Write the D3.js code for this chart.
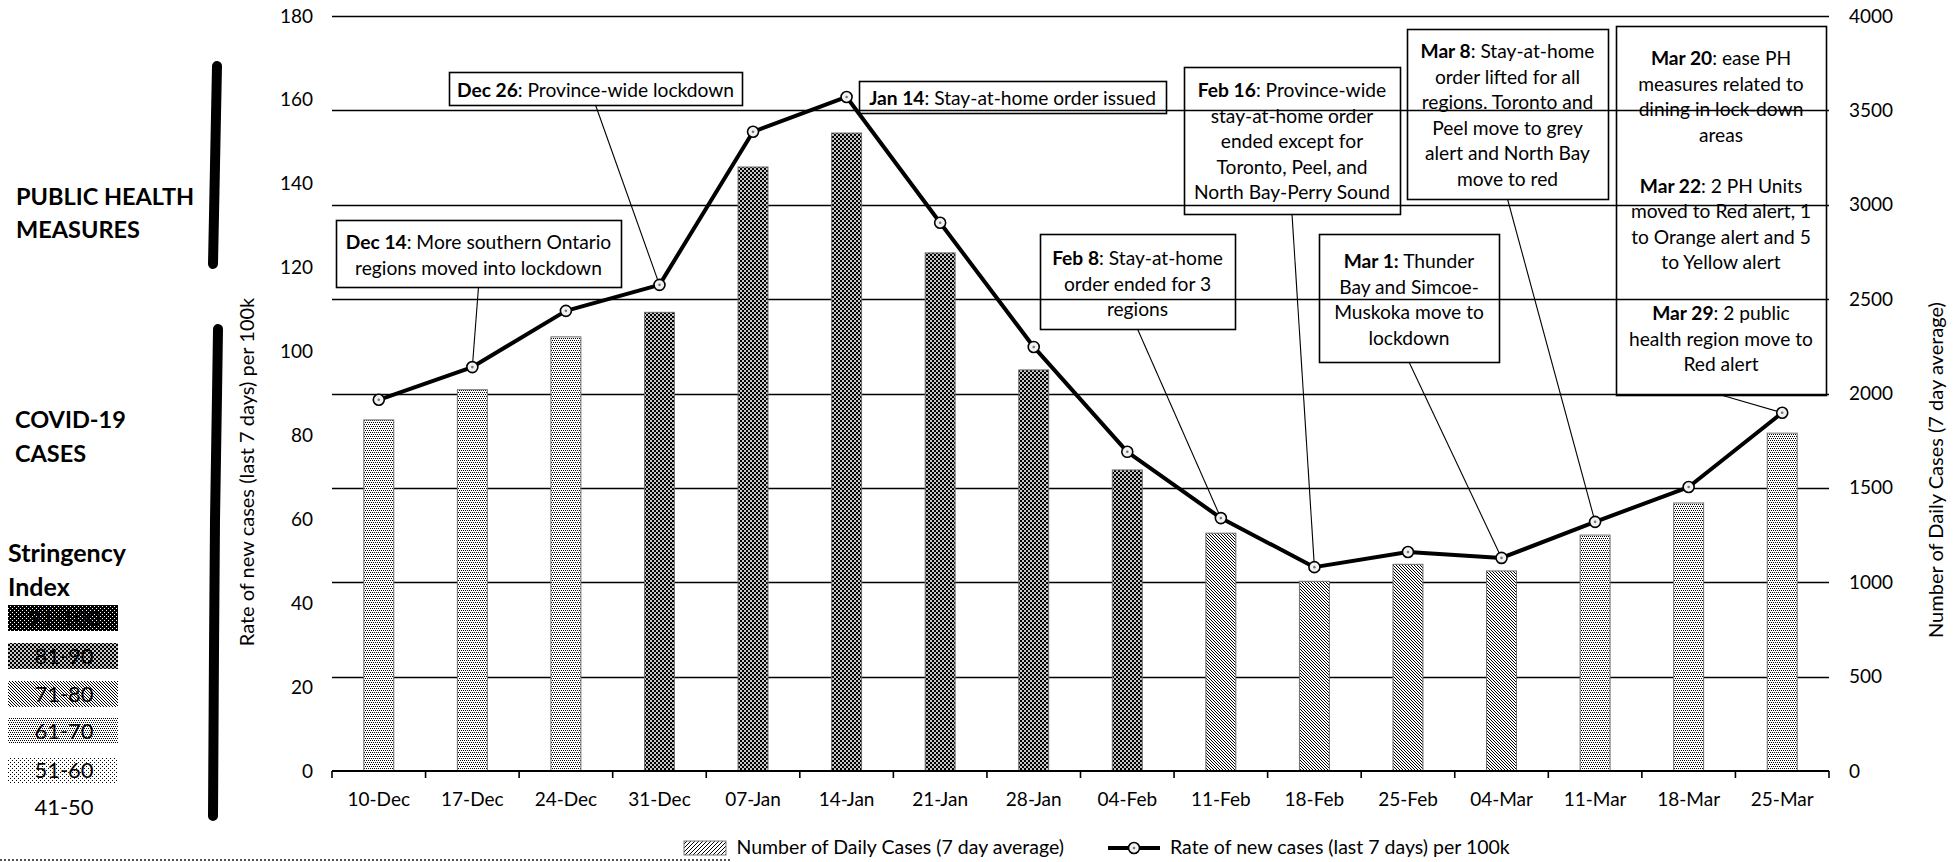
<!DOCTYPE html>
<html>
<head>
<meta charset="utf-8">
<script src="https://cdn.jsdelivr.net/npm/d3@7"></script>
<style>
  html, body { margin: 0; padding: 0; background: #fff; }
  svg { display: block; font-family: Lato, "Open Sans", sans-serif; }
</style>
</head>
<body>
<svg id="chart" width="1956" height="862"></svg>
<script>
// ---- data ----
const categories = ["10-Dec", "17-Dec", "24-Dec", "31-Dec", "07-Jan", "14-Jan", "21-Jan", "28-Jan",
                    "04-Feb", "11-Feb", "18-Feb", "25-Feb", "04-Mar", "11-Mar", "18-Mar", "25-Mar"];
// Number of daily cases, 7 day average (right axis)
const dailyCases = [1860, 2020, 2300, 2430, 3200, 3380, 2745, 2125,
                    1595, 1260, 1005, 1095, 1060, 1250, 1420, 1790];
// Rate of new cases in the last 7 days per 100k (left axis)
const ratePer100k = [88.5, 96.3, 109.7, 115.9, 152.4, 160.7, 130.7, 101.1,
                     76.1, 60.3, 48.6, 52.2, 50.8, 59.4, 67.7, 85.4];
// Stringency index band for each week
const stringencyBand = ["61-70", "61-70", "61-70", "81-90", "81-90", "81-90", "81-90", "81-90",
                        "81-90", "71-80", "71-80", "71-80", "71-80", "61-70", "61-70", "61-70"];
const stringencyLegend = ["91-100", "81-90", "71-80", "61-70", "51-60", "41-50"];
const leftTicks = [0, 20, 40, 60, 80, 100, 120, 140, 160, 180];
const rightTicks = [0, 500, 1000, 1500, 2000, 2500, 3000, 3500, 4000];

// Public health measure notes: index of the week each note points at, and its text
const noteTarget = [1, 3, null, 9, 10, 12, 13, 15];
const noteText = [
  ["**Dec 14**: More southern Ontario", "regions moved into lockdown"],
  ["**Dec 26**: Province-wide lockdown"],
  ["**Jan 14**: Stay-at-home order issued"],
  ["**Feb 8**: Stay-at-home", "order ended for 3", "regions"],
  ["**Feb 16**: Province-wide", "stay-at-home order", "ended except for", "Toronto, Peel, and", "North Bay-Perry Sound"],
  ["**Mar 1:** Thunder", "Bay and Simcoe-", "Muskoka move to", "lockdown"],
  ["**Mar 8**: Stay-at-home", "order lifted for all", "regions. Toronto and", "Peel move to grey", "alert and North Bay", "move to red"],
  ["**Mar 20**: ease PH", "measures related to", "dining in lock-down", "areas", "",
   "**Mar 22**: 2 PH Units", "moved to Red alert, 1", "to Orange alert and 5", "to Yellow alert", "",
   "**Mar 29**: 2 public", "health region move to", "Red alert"]
];
// note boxes: [x, y, width, height, first baseline]
const noteBoxes = [
  [336, 220, 285, 67, 249],
  [449, 72, 293, 33, 97],
  [859, 81, 307, 32, 105],
  [1040, 234, 195, 95, 265],
  [1184, 67, 216, 147, 97],
  [1319, 234, 180, 128, 268],
  [1407, 29, 201, 170, 58],
  [1616, 26, 210, 369, 65]
];

// ---- layout ----
const plot = { left: 332, right: 1829, top: 16, bottom: 771 };
const FONT = "Lato, 'Open Sans', sans-serif";
const svg = d3.select("#chart");

const x = d3.scaleBand().domain(categories).range([plot.left, plot.right])
  .paddingInner(0.68).paddingOuter(0.34);
const yL = d3.scaleLinear().domain([0, 180]).range([plot.bottom, plot.top]);
const yR = d3.scaleLinear().domain([0, 4000]).range([plot.bottom, plot.top]);
const cx = i => x(categories[i]) + x.bandwidth() / 2;

// ---- fill patterns for the stringency bands ----
const defs = svg.append("defs");
function pixelPattern(id, w, h, bg, fg, pixels, size = 1) {
  const p = defs.append("pattern").attr("id", id).attr("patternUnits", "userSpaceOnUse")
    .attr("width", w * size).attr("height", h * size);
  p.append("rect").attr("width", w * size).attr("height", h * size).attr("fill", bg);
  pixels.forEach(([px, py]) => p.append("rect").attr("x", px * size).attr("y", py * size)
    .attr("width", size).attr("height", size).attr("fill", fg));
}
pixelPattern("band-91-100", 4, 4, "#000", "#fff", [[0, 0], [2, 2]]);
pixelPattern("band-81-90", 2, 2, "#c8c8c8", "#000", [[0, 0], [1, 1]], 2);
pixelPattern("band-71-80", 3, 3, "#fff", "#000", [[0, 0], [1, 1], [2, 2]]);
pixelPattern("band-61-70", 4, 4, "#fff", "#000", [[0, 0], [2, 0], [1, 2], [3, 2]]);
pixelPattern("band-51-60", 4, 4, "#fff", "#000", [[0, 0], [2, 2]]);
pixelPattern("legend-hatch", 4, 4, "#fff", "#000", [[3, 0], [2, 1], [1, 2], [0, 3]]);
const bandFill = b => b === "41-50" ? "#fff" : `url(#band-${b})`;

// ---- gridlines (right axis) ----
svg.append("g").selectAll("line").data(rightTicks.slice(1)).join("line")
  .attr("x1", plot.left).attr("x2", plot.right)
  .attr("y1", d => Math.round(yR(d)) + 0.5).attr("y2", d => Math.round(yR(d)) + 0.5)
  .attr("stroke", "#000").attr("stroke-width", 1.7);

// ---- bars ----
svg.append("g").selectAll("rect").data(categories).join("rect")
  .attr("x", d => x(d)).attr("width", x.bandwidth())
  .attr("y", (d, i) => yR(dailyCases[i]))
  .attr("height", (d, i) => plot.bottom - yR(dailyCases[i]))
  .attr("fill", (d, i) => bandFill(stringencyBand[i]))
  .attr("stroke", "#6e6e6e").attr("stroke-width", 1);

// ---- category axis ----
svg.append("line").attr("x1", plot.left).attr("x2", plot.right)
  .attr("y1", plot.bottom).attr("y2", plot.bottom)
  .attr("stroke", "#000").attr("stroke-width", 2);
const bounds = d3.range(categories.length + 1).map(i => plot.left + i * x.step());
svg.append("g").selectAll("line").data(bounds).join("line")
  .attr("x1", d => d).attr("x2", d => d)
  .attr("y1", plot.bottom).attr("y2", plot.bottom + 7)
  .attr("stroke", "#000").attr("stroke-width", 1.6);

const gx = svg.append("g").attr("transform", `translate(0,${plot.bottom})`)
  .call(d3.axisBottom(x).tickSize(0).tickPadding(22));
gx.select(".domain").remove();
gx.attr("font-family", FONT).attr("font-size", 19);
gx.selectAll("text").attr("fill", "#000");

const gl = svg.append("g").attr("transform", `translate(313,0)`)
  .call(d3.axisLeft(yL).tickValues(leftTicks).tickSize(0).tickPadding(0));
gl.select(".domain").remove();
gl.attr("font-family", FONT).attr("font-size", 19);
gl.selectAll("text").attr("fill", "#000");

const gr = svg.append("g").attr("transform", `translate(1849,0)`)
  .call(d3.axisRight(yR).tickValues(rightTicks).tickFormat(d3.format("d")).tickSize(0).tickPadding(0));
gr.select(".domain").remove();
gr.attr("font-family", FONT).attr("font-size", 19);
gr.selectAll("text").attr("fill", "#000");

// axis titles
svg.append("text").attr("transform", "translate(254,472) rotate(-90)")
  .attr("text-anchor", "middle").attr("font-size", 20).attr("fill", "#000")
  .text("Rate of new cases (last 7 days) per 100k");
svg.append("text").attr("transform", "translate(1943,470) rotate(-90)")
  .attr("text-anchor", "middle").attr("font-size", 20).attr("fill", "#000")
  .text("Number of Daily Cases (7 day average)");

// ---- note boxes and leaders ----
function richLine(sel, str) {
  const parts = str.split(/(\*\*[^*]+\*\*)/).filter(s => s.length);
  parts.forEach(p => {
    if (p.startsWith("**")) sel.append("tspan").attr("font-weight", 700).text(p.slice(2, -2));
    else sel.append("tspan").text(p);
  });
}
const gNotes = svg.append("g");
noteBoxes.forEach((b, k) => {
  const [bx, by, bw, bh, base] = b;
  const t = noteTarget[k];
  if (t !== null) {
    gNotes.append("line").attr("x1", bx + bw / 2).attr("y1", by + bh)
      .attr("x2", cx(t)).attr("y2", yL(ratePer100k[t]))
      .attr("stroke", "#000").attr("stroke-width", 1.1);
  }
  gNotes.append("rect").attr("x", bx + 0.5).attr("y", by + 0.5).attr("width", bw).attr("height", bh)
    .attr("fill", "none").attr("stroke", "#000").attr("stroke-width", 1.6);
  noteText[k].forEach((ln, j) => {
    if (!ln) return;
    const tx = gNotes.append("text").attr("x", bx + bw / 2).attr("y", base + j * 25.5)
      .attr("text-anchor", "middle").attr("font-size", 19.2).attr("fill", "#000");
    richLine(tx, ln);
  });
});

// ---- rate line ----
svg.append("path").datum(ratePer100k)
  .attr("d", d3.line().x((d, i) => cx(i)).y(d => yL(d)))
  .attr("fill", "none").attr("stroke", "#000").attr("stroke-width", 4)
  .attr("stroke-linejoin", "round");
const markers = svg.append("g").selectAll("g").data(ratePer100k).join("g")
  .attr("transform", (d, i) => `translate(${cx(i)},${yL(d)})`);
markers.append("circle").attr("r", 5.5)
  .attr("fill", "#f2f2f2").attr("stroke", "#000").attr("stroke-width", 1.6);
markers.append("circle").attr("r", 1.3).attr("fill", "#777");

// ---- side panel ----
const side = svg.append("g");
side.append("path").attr("d", "M217,66 L216,115 L214,215 L213,264")
  .attr("fill", "none").attr("stroke", "#000").attr("stroke-width", 10).attr("stroke-linecap", "round");
side.append("path").attr("d", "M218,329 L217,395 L215,520 L214,650 L213,816")
  .attr("fill", "none").attr("stroke", "#000").attr("stroke-width", 10).attr("stroke-linecap", "round");

const heading = (txt, px, py, fs) => side.append("text").attr("x", px).attr("y", py)
  .attr("font-size", fs).attr("font-weight", 700).attr("fill", "#000").text(txt);
heading("PUBLIC HEALTH", 16, 205, 23.5);
heading("MEASURES", 16, 238, 23.5);
heading("COVID-19", 15, 428, 23.5);
heading("CASES", 15, 462, 23.5);
heading("Stringency", 8, 562, 25);
heading("Index", 8, 596, 25);

const swatchY = [605, 643, 681, 718, 757, 794];
stringencyLegend.forEach((b, i) => {
  if (b !== "41-50") {
    side.append("rect").attr("x", 8).attr("y", swatchY[i]).attr("width", 110).attr("height", 26)
      .attr("fill", bandFill(b));
  }
  side.append("text").attr("x", 64).attr("y", swatchY[i] + 21).attr("text-anchor", "middle")
    .attr("font-size", 22).attr("fill", "#000").text(b);
});

// ---- bottom legend ----
const legY = 848;
const leg = svg.append("g").attr("font-size", 19.5);
leg.append("text").attr("x", 1170).attr("y", legY + 6).attr("fill", "#000")
  .text("Rate of new cases (last 7 days) per 100k");
leg.append("line").attr("x1", 1108).attr("x2", 1160).attr("y1", legY).attr("y2", legY)
  .attr("stroke", "#000").attr("stroke-width", 4);
const lm = leg.append("g").attr("transform", `translate(1134,${legY})`);
lm.append("circle").attr("r", 5.5).attr("fill", "#f2f2f2").attr("stroke", "#000").attr("stroke-width", 1.6);
lm.append("circle").attr("r", 1.3).attr("fill", "#777");
leg.append("text").attr("x", 1064).attr("y", legY + 6).attr("fill", "#000")
  .attr("text-anchor", "end").text("Number of Daily Cases (7 day average)");
leg.append("rect").attr("x", 684).attr("y", legY - 7).attr("width", 42).attr("height", 14)
  .attr("fill", "url(#legend-hatch)").attr("stroke", "#7a7a7a").attr("stroke-width", 1);

// dotted rule along the bottom edge
svg.append("line").attr("x1", 0).attr("x2", 730).attr("y1", 860).attr("y2", 860)
  .attr("stroke", "#555").attr("stroke-width", 2).attr("stroke-dasharray", "2,2");
</script>
</body>
</html>
